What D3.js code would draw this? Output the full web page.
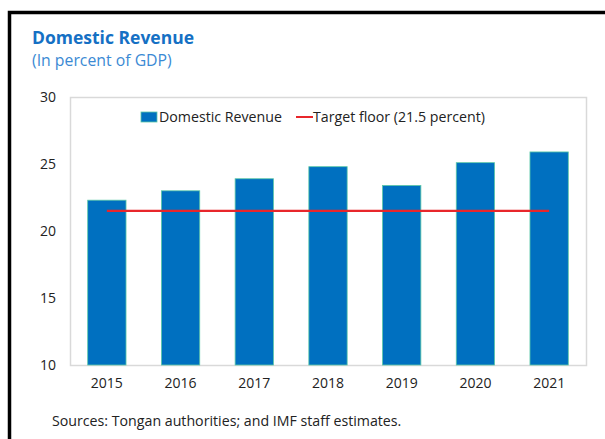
<!DOCTYPE html>
<html>
<head>
<meta charset="utf-8">
<script src="https://cdn.jsdelivr.net/npm/d3@7"></script>
<style>
	body { margin: 0; background: #fff; }
	svg { font-family: "Open Sans", "Noto Sans", sans-serif; }
</style>
</head>
<body>
<svg id="chart" width="605" height="439"></svg>
<script>
// values
const years = ["2015", "2016", "2017", "2018", "2019", "2020", "2021"]
const revenue = [22.3, 23.0, 23.9, 24.8, 23.4, 25.1, 25.9]
const targetFloor = 21.5
const yTicks = [10, 15, 20, 25, 30]

const svg = d3.select("#chart")

// frame around the whole figure
svg.append("path")
	.attr("d", "M9.5,439 V12.5 H605")
	.attr("fill", "none")
	.attr("stroke", "#000")
	.attr("stroke-width", 3.5)

svg.append("text")
	.attr("x", 32)
	.attr("y", 44)
	.attr("fill", "#1570c4")
	.style("font-size", "17.5px")
	.style("font-weight", "bold")
	.text("Domestic Revenue")

svg.append("text")
	.attr("x", 32)
	.attr("y", 66)
	.attr("fill", "#3b8ad4")
	.style("font-size", "15.8px")
	.text("(In percent of GDP)")

const margin = {top: 97, left: 70, right: 586, bottom: 365}

const x = d3.scaleBand()
	.domain(years)
	.range([margin.left, margin.right])
	.paddingInner(0.48)
	.paddingOuter(0.24)

const y = d3.scaleLinear()
	.domain([10, 30])
	.range([margin.bottom, margin.top])

// plot area box
svg.append("rect")
	.attr("x", margin.left + 0.5)
	.attr("y", margin.top + 0.5)
	.attr("width", margin.right - margin.left)
	.attr("height", margin.bottom - margin.top)
	.attr("fill", "none")
	.attr("stroke", "#d9d9d9")
	.attr("stroke-width", 1.5)

svg.selectAll(".bar")
	.data(years)
	.enter()
	.append("rect")
		.attr("class", "bar")
		.attr("x", d => x(d))
		.attr("width", x.bandwidth())
		.attr("y", (d, i) => y(revenue[i]))
		.attr("height", (d, i) => y(10) - y(revenue[i]))
		.attr("fill", "#0070c0")
		.attr("stroke", "#5cc9a7")
		.attr("stroke-width", 0.8)

const line = d3.line()
	.x(d => x(d) + x.bandwidth() / 2)
	.y(() => y(targetFloor))

svg.append("path")
	.datum(years)
	.attr("d", line)
	.attr("fill", "none")
	.attr("stroke", "#e8262b")
	.attr("stroke-width", 2.2)

const yAxis = d3.axisLeft(y).tickValues(yTicks).tickSize(0).tickPadding(14)
svg.append("g")
	.attr("transform", `translate(${margin.left},0)`)
	.call(yAxis)
	.call(g => g.select(".domain").remove())
	.selectAll("text")
		.style("font-size", "14px")
		.style("font-family", "'Open Sans', sans-serif")
		.attr("fill", "#222")

const xAxis = d3.axisBottom(x).tickSize(0).tickPadding(13)
svg.append("g")
	.attr("transform", `translate(0,${margin.bottom})`)
	.call(xAxis)
	.call(g => g.select(".domain").remove())
	.selectAll("text")
		.style("font-size", "14px")
		.style("font-family", "'Open Sans', sans-serif")
		.attr("fill", "#222")

// legend
const legend = svg.append("g").style("font-size", "14.2px")
legend.append("rect")
	.attr("x", 141).attr("y", 112)
	.attr("width", 16).attr("height", 10)
	.attr("fill", "#0070c0")
	.attr("stroke", "#5cc9a7")
	.attr("stroke-width", 0.8)
legend.append("text")
	.attr("x", 159).attr("y", 122)
	.attr("fill", "#222")
	.text("Domestic Revenue")
legend.append("line")
	.attr("x1", 296).attr("x2", 313)
	.attr("y1", 117).attr("y2", 117)
	.attr("stroke", "#e8262b")
	.attr("stroke-width", 2)
legend.append("text")
	.attr("x", 313).attr("y", 122)
	.attr("fill", "#222")
	.text("Target floor (21.5 percent)")

svg.append("text")
	.attr("x", 52)
	.attr("y", 426)
	.attr("fill", "#222")
	.style("font-size", "14.2px")
	.text("Sources: Tongan authorities; and IMF staff estimates.")
</script>
</body>
</html>
